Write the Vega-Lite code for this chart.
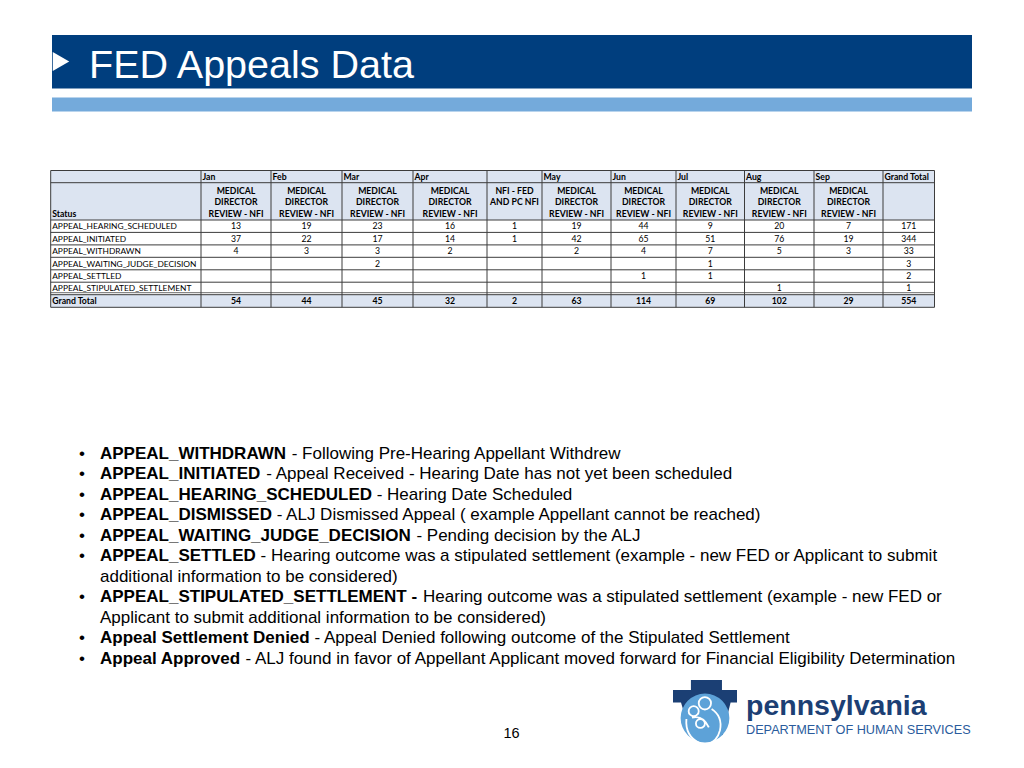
{
  "$schema": "https://vega.github.io/schema/vega-lite/v6.json",
  "width": 1024,
  "height": 768,
  "autosize": {"type": "none"},
  "padding": 0,
  "background": "white",
  "config": {"view": {"stroke": null}},
  "resolve": {"scale": {"x": "independent", "y": "independent"}},
  "datasets": {
    "cells": [
      {"status": "APPEAL_HEARING_SCHEDULED", "month": "Jan", "r": 2, "c": 1, "value": 13},
      {"status": "APPEAL_HEARING_SCHEDULED", "month": "Feb", "r": 2, "c": 2, "value": 19},
      {"status": "APPEAL_HEARING_SCHEDULED", "month": "Mar", "r": 2, "c": 3, "value": 23},
      {"status": "APPEAL_HEARING_SCHEDULED", "month": "Apr", "r": 2, "c": 4, "value": 16},
      {"status": "APPEAL_HEARING_SCHEDULED", "month": "Apr NFI", "r": 2, "c": 5, "value": 1},
      {"status": "APPEAL_HEARING_SCHEDULED", "month": "May", "r": 2, "c": 6, "value": 19},
      {"status": "APPEAL_HEARING_SCHEDULED", "month": "Jun", "r": 2, "c": 7, "value": 44},
      {"status": "APPEAL_HEARING_SCHEDULED", "month": "Jul", "r": 2, "c": 8, "value": 9},
      {"status": "APPEAL_HEARING_SCHEDULED", "month": "Aug", "r": 2, "c": 9, "value": 20},
      {"status": "APPEAL_HEARING_SCHEDULED", "month": "Sep", "r": 2, "c": 10, "value": 7},
      {"status": "APPEAL_HEARING_SCHEDULED", "month": "Grand Total", "r": 2, "c": 11, "value": 171},
      {"status": "APPEAL_INITIATED", "month": "Jan", "r": 3, "c": 1, "value": 37},
      {"status": "APPEAL_INITIATED", "month": "Feb", "r": 3, "c": 2, "value": 22},
      {"status": "APPEAL_INITIATED", "month": "Mar", "r": 3, "c": 3, "value": 17},
      {"status": "APPEAL_INITIATED", "month": "Apr", "r": 3, "c": 4, "value": 14},
      {"status": "APPEAL_INITIATED", "month": "Apr NFI", "r": 3, "c": 5, "value": 1},
      {"status": "APPEAL_INITIATED", "month": "May", "r": 3, "c": 6, "value": 42},
      {"status": "APPEAL_INITIATED", "month": "Jun", "r": 3, "c": 7, "value": 65},
      {"status": "APPEAL_INITIATED", "month": "Jul", "r": 3, "c": 8, "value": 51},
      {"status": "APPEAL_INITIATED", "month": "Aug", "r": 3, "c": 9, "value": 76},
      {"status": "APPEAL_INITIATED", "month": "Sep", "r": 3, "c": 10, "value": 19},
      {"status": "APPEAL_INITIATED", "month": "Grand Total", "r": 3, "c": 11, "value": 344},
      {"status": "APPEAL_WITHDRAWN", "month": "Jan", "r": 4, "c": 1, "value": 4},
      {"status": "APPEAL_WITHDRAWN", "month": "Feb", "r": 4, "c": 2, "value": 3},
      {"status": "APPEAL_WITHDRAWN", "month": "Mar", "r": 4, "c": 3, "value": 3},
      {"status": "APPEAL_WITHDRAWN", "month": "Apr", "r": 4, "c": 4, "value": 2},
      {"status": "APPEAL_WITHDRAWN", "month": "May", "r": 4, "c": 6, "value": 2},
      {"status": "APPEAL_WITHDRAWN", "month": "Jun", "r": 4, "c": 7, "value": 4},
      {"status": "APPEAL_WITHDRAWN", "month": "Jul", "r": 4, "c": 8, "value": 7},
      {"status": "APPEAL_WITHDRAWN", "month": "Aug", "r": 4, "c": 9, "value": 5},
      {"status": "APPEAL_WITHDRAWN", "month": "Sep", "r": 4, "c": 10, "value": 3},
      {"status": "APPEAL_WITHDRAWN", "month": "Grand Total", "r": 4, "c": 11, "value": 33},
      {"status": "APPEAL_WAITING_JUDGE_DECISION", "month": "Mar", "r": 5, "c": 3, "value": 2},
      {"status": "APPEAL_WAITING_JUDGE_DECISION", "month": "Jul", "r": 5, "c": 8, "value": 1},
      {"status": "APPEAL_WAITING_JUDGE_DECISION", "month": "Grand Total", "r": 5, "c": 11, "value": 3},
      {"status": "APPEAL_SETTLED", "month": "Jun", "r": 6, "c": 7, "value": 1},
      {"status": "APPEAL_SETTLED", "month": "Jul", "r": 6, "c": 8, "value": 1},
      {"status": "APPEAL_SETTLED", "month": "Grand Total", "r": 6, "c": 11, "value": 2},
      {"status": "APPEAL_STIPULATED_SETTLEMENT", "month": "Aug", "r": 7, "c": 9, "value": 1},
      {"status": "APPEAL_STIPULATED_SETTLEMENT", "month": "Grand Total", "r": 7, "c": 11, "value": 1},
      {"status": "Grand Total", "month": "Jan", "r": 8, "c": 1, "value": 54},
      {"status": "Grand Total", "month": "Feb", "r": 8, "c": 2, "value": 44},
      {"status": "Grand Total", "month": "Mar", "r": 8, "c": 3, "value": 45},
      {"status": "Grand Total", "month": "Apr", "r": 8, "c": 4, "value": 32},
      {"status": "Grand Total", "month": "Apr NFI", "r": 8, "c": 5, "value": 2},
      {"status": "Grand Total", "month": "May", "r": 8, "c": 6, "value": 63},
      {"status": "Grand Total", "month": "Jun", "r": 8, "c": 7, "value": 114},
      {"status": "Grand Total", "month": "Jul", "r": 8, "c": 8, "value": 69},
      {"status": "Grand Total", "month": "Aug", "r": 8, "c": 9, "value": 102},
      {"status": "Grand Total", "month": "Sep", "r": 8, "c": 10, "value": 29},
      {"status": "Grand Total", "month": "Grand Total", "r": 8, "c": 11, "value": 554}
    ],
    "labels": [
      {"r": 0, "c": 1, "text": "Jan"},
      {"r": 0, "c": 2, "text": "Feb"},
      {"r": 0, "c": 3, "text": "Mar"},
      {"r": 0, "c": 4, "text": "Apr"},
      {"r": 0, "c": 6, "text": "May"},
      {"r": 0, "c": 7, "text": "Jun"},
      {"r": 0, "c": 8, "text": "Jul"},
      {"r": 0, "c": 9, "text": "Aug"},
      {"r": 0, "c": 10, "text": "Sep"},
      {"r": 0, "c": 11, "text": "Grand Total"},
      {"r": 2, "c": 0, "text": "APPEAL_HEARING_SCHEDULED"},
      {"r": 3, "c": 0, "text": "APPEAL_INITIATED"},
      {"r": 4, "c": 0, "text": "APPEAL_WITHDRAWN"},
      {"r": 5, "c": 0, "text": "APPEAL_WAITING_JUDGE_DECISION"},
      {"r": 6, "c": 0, "text": "APPEAL_SETTLED"},
      {"r": 7, "c": 0, "text": "APPEAL_STIPULATED_SETTLEMENT"},
      {"r": 8, "c": 0, "text": "Grand Total"}
    ],
    "subheads": [
      {"c": 1, "text": "MEDICAL\nDIRECTOR\nREVIEW - NFI"},
      {"c": 2, "text": "MEDICAL\nDIRECTOR\nREVIEW - NFI"},
      {"c": 3, "text": "MEDICAL\nDIRECTOR\nREVIEW - NFI"},
      {"c": 4, "text": "MEDICAL\nDIRECTOR\nREVIEW - NFI"},
      {"c": 5, "text": "NFI - FED\nAND PC NFI"},
      {"c": 6, "text": "MEDICAL\nDIRECTOR\nREVIEW - NFI"},
      {"c": 7, "text": "MEDICAL\nDIRECTOR\nREVIEW - NFI"},
      {"c": 8, "text": "MEDICAL\nDIRECTOR\nREVIEW - NFI"},
      {"c": 9, "text": "MEDICAL\nDIRECTOR\nREVIEW - NFI"},
      {"c": 10, "text": "MEDICAL\nDIRECTOR\nREVIEW - NFI"}
    ],
    "hlines": [{"r": 0}, {"r": 1}, {"r": 2}, {"r": 3}, {"r": 4}, {"r": 5}, {"r": 6}, {"r": 7}, {"r": 8}, {"r": 9}],
    "vlines": [{"c": 0}, {"c": 1}, {"c": 2}, {"c": 3}, {"c": 4}, {"c": 5}, {"c": 6}, {"c": 7}, {"c": 8}, {"c": 9}, {"c": 10}, {"c": 11}, {"c": 12}],
    "bands": [{"from": 0, "to": 2}, {"from": 8, "to": 9}],
    "notes": [
      {"line": 0, "bullet": "•", "bold": "APPEAL_WITHDRAWN", "rest": "- Following Pre-Hearing Appellant Withdrew"},
      {"line": 1, "bullet": "•", "bold": "APPEAL_INITIATED", "rest": "- Appeal Received - Hearing Date has not yet been scheduled"},
      {"line": 2, "bullet": "•", "bold": "APPEAL_HEARING_SCHEDULED", "rest": "- Hearing Date Scheduled"},
      {"line": 3, "bullet": "•", "bold": "APPEAL_DISMISSED", "rest": "- ALJ Dismissed Appeal ( example Appellant cannot be reached)"},
      {"line": 4, "bullet": "•", "bold": "APPEAL_WAITING_JUDGE_DECISION", "rest": "- Pending decision by the ALJ"},
      {"line": 5, "bullet": "•", "bold": "APPEAL_SETTLED", "rest": "- Hearing outcome was a stipulated settlement (example - new FED or Applicant to submit"},
      {"line": 6, "bullet": "", "bold": "", "rest": "additional information to be considered)"},
      {"line": 7, "bullet": "•", "bold": "APPEAL_STIPULATED_SETTLEMENT -", "rest": "Hearing outcome was a stipulated settlement (example - new FED or"},
      {"line": 8, "bullet": "", "bold": "", "rest": "Applicant to submit additional information to be considered)"},
      {"line": 9, "bullet": "•", "bold": "Appeal Settlement Denied", "rest": "- Appeal Denied following outcome of the Stipulated Settlement"},
      {"line": 10, "bullet": "•", "bold": "Appeal Approved", "rest": "- ALJ found in favor of Appellant Applicant moved forward for Financial Eligibility Determination"}
    ]
  },
  "layer": [
    {
      "data": {"values": [{}]},
      "mark": {"type": "rect", "color": "#003E7E"},
      "encoding": {
        "x": {"datum": 52, "type": "quantitative", "scale": {"type": "linear", "domain": [0, 1024], "range": [0, 1024], "nice": false, "zero": false}, "axis": null},
        "x2": {"datum": 972},
        "y": {"datum": 35, "type": "quantitative", "scale": {"type": "linear", "domain": [0, 768], "range": [0, 768], "nice": false, "zero": false}, "axis": null},
        "y2": {"datum": 88.5}
      }
    },
    {
      "data": {"values": [{}]},
      "mark": {"type": "point", "shape": "triangle-right", "filled": true, "color": "white", "opacity": 1, "size": 361, "strokeWidth": 0},
      "encoding": {
        "x": {"datum": 61, "type": "quantitative", "scale": {"type": "linear", "domain": [0, 1024], "range": [0, 1024], "nice": false, "zero": false}, "axis": null},
        "y": {"datum": 61.5, "type": "quantitative", "scale": {"type": "linear", "domain": [0, 768], "range": [0, 768], "nice": false, "zero": false}, "axis": null}
      }
    },
    {
      "data": {"values": [{"t": "FED Appeals Data"}]},
      "mark": {"type": "text", "font": "Liberation Sans", "fontSize": 39.5, "color": "white", "align": "left", "baseline": "alphabetic"},
      "encoding": {
        "text": {"field": "t"},
        "x": {"datum": 89, "type": "quantitative", "scale": {"type": "linear", "domain": [0, 1024], "range": [0, 1024], "nice": false, "zero": false}, "axis": null},
        "y": {"datum": 78, "type": "quantitative", "scale": {"type": "linear", "domain": [0, 768], "range": [0, 768], "nice": false, "zero": false}, "axis": null}
      }
    },
    {
      "data": {"values": [{}]},
      "mark": {"type": "rect", "color": "#74AADB"},
      "encoding": {
        "x": {"datum": 52, "type": "quantitative", "scale": {"type": "linear", "domain": [0, 1024], "range": [0, 1024], "nice": false, "zero": false}, "axis": null},
        "x2": {"datum": 972},
        "y": {"datum": 97.5, "type": "quantitative", "scale": {"type": "linear", "domain": [0, 768], "range": [0, 768], "nice": false, "zero": false}, "axis": null},
        "y2": {"datum": 111.5}
      }
    },
    {
      "data": {"name": "bands"},
      "mark": {"type": "rect", "color": "#DCE4F1"},
      "encoding": {
        "x": {"datum": 0, "type": "quantitative", "scale": {"type": "linear", "domain": [0, 1, 2, 3, 4, 5, 6, 7, 8, 9, 10, 11, 12], "range": [50.7, 201, 271, 342, 413, 487, 542, 611, 676, 744.5, 814, 883, 934.5], "nice": false, "zero": false}, "axis": null},
        "x2": {"datum": 12},
        "y": {"field": "from", "type": "quantitative", "scale": {"type": "linear", "domain": [0, 1, 2, 3, 4, 5, 6, 7, 8, 9], "range": [170.5, 182.7, 220, 232.4, 244.9, 257.3, 269.8, 282.2, 294.7, 307.3], "nice": false, "zero": false}, "axis": null},
        "y2": {"field": "to"}
      }
    },
    {
      "data": {"name": "hlines"},
      "mark": {"type": "rule", "color": "#3C3C3C", "strokeWidth": 1},
      "encoding": {
        "x": {"datum": 0, "type": "quantitative", "scale": {"type": "linear", "domain": [0, 1, 2, 3, 4, 5, 6, 7, 8, 9, 10, 11, 12], "range": [50.7, 201, 271, 342, 413, 487, 542, 611, 676, 744.5, 814, 883, 934.5], "nice": false, "zero": false}, "axis": null},
        "x2": {"datum": 12},
        "y": {"field": "r", "type": "quantitative", "scale": {"type": "linear", "domain": [0, 1, 2, 3, 4, 5, 6, 7, 8, 9], "range": [170.5, 182.7, 220, 232.4, 244.9, 257.3, 269.8, 282.2, 294.7, 307.3], "nice": false, "zero": false}, "axis": null}
      }
    },
    {
      "data": {"values": [{}]},
      "mark": {"type": "rule", "color": "#6A6A6A", "strokeWidth": 1, "yOffset": -2},
      "encoding": {
        "x": {"datum": 0, "type": "quantitative", "scale": {"type": "linear", "domain": [0, 1, 2, 3, 4, 5, 6, 7, 8, 9, 10, 11, 12], "range": [50.7, 201, 271, 342, 413, 487, 542, 611, 676, 744.5, 814, 883, 934.5], "nice": false, "zero": false}, "axis": null},
        "x2": {"datum": 12},
        "y": {"datum": 8, "type": "quantitative", "scale": {"type": "linear", "domain": [0, 1, 2, 3, 4, 5, 6, 7, 8, 9], "range": [170.5, 182.7, 220, 232.4, 244.9, 257.3, 269.8, 282.2, 294.7, 307.3], "nice": false, "zero": false}, "axis": null}
      }
    },
    {
      "data": {"name": "vlines"},
      "mark": {"type": "rule", "color": "#3C3C3C", "strokeWidth": 1},
      "encoding": {
        "x": {"field": "c", "type": "quantitative", "scale": {"type": "linear", "domain": [0, 1, 2, 3, 4, 5, 6, 7, 8, 9, 10, 11, 12], "range": [50.7, 201, 271, 342, 413, 487, 542, 611, 676, 744.5, 814, 883, 934.5], "nice": false, "zero": false}, "axis": null},
        "y": {"datum": 0, "type": "quantitative", "scale": {"type": "linear", "domain": [0, 1, 2, 3, 4, 5, 6, 7, 8, 9], "range": [170.5, 182.7, 220, 232.4, 244.9, 257.3, 269.8, 282.2, 294.7, 307.3], "nice": false, "zero": false}, "axis": null},
        "y2": {"datum": 9}
      }
    },
    {
      "data": {"name": "labels"},
      "transform": [{"filter": "datum.r >= 2 && datum.r <= 7"}],
      "mark": {"type": "text", "font": "Lato", "fontSize": 8.4, "color": "#000000", "align": "left", "baseline": "middle", "dx": 1.5},
      "encoding": {
        "text": {"field": "text"},
        "x": {"field": "c", "type": "quantitative", "scale": {"type": "linear", "domain": [0, 1, 2, 3, 4, 5, 6, 7, 8, 9, 10, 11, 12], "range": [50.7, 201, 271, 342, 413, 487, 542, 611, 676, 744.5, 814, 883, 934.5], "nice": false, "zero": false}, "axis": null},
        "y": {"field": "r", "type": "quantitative", "scale": {"type": "linear", "domain": [0, 1, 2, 3, 4, 5, 6, 7, 8], "range": [176.6, 201.4, 226.2, 238.65, 251.1, 263.55, 276, 288.45, 301], "nice": false, "zero": false}, "axis": null}
      }
    },
    {
      "data": {"name": "labels"},
      "transform": [{"filter": "datum.r == 0 || datum.r == 8"}],
      "mark": {"type": "text", "font": "Lato", "fontSize": 8.7, "fontWeight": "bold", "color": "#000000", "align": "left", "baseline": "middle", "dx": 1.5},
      "encoding": {
        "text": {"field": "text"},
        "x": {"field": "c", "type": "quantitative", "scale": {"type": "linear", "domain": [0, 1, 2, 3, 4, 5, 6, 7, 8, 9, 10, 11, 12], "range": [50.7, 201, 271, 342, 413, 487, 542, 611, 676, 744.5, 814, 883, 934.5], "nice": false, "zero": false}, "axis": null},
        "y": {"field": "r", "type": "quantitative", "scale": {"type": "linear", "domain": [0, 1, 2, 3, 4, 5, 6, 7, 8], "range": [176.6, 201.4, 226.2, 238.65, 251.1, 263.55, 276, 288.45, 301], "nice": false, "zero": false}, "axis": null}
      }
    },
    {
      "data": {"values": [{"t": "Status"}]},
      "mark": {"type": "text", "font": "Lato", "fontSize": 8.7, "fontWeight": "bold", "color": "#000000", "align": "left", "baseline": "bottom", "dx": 1.5, "dy": -1.5},
      "encoding": {
        "text": {"field": "t"},
        "x": {"datum": 0, "type": "quantitative", "scale": {"type": "linear", "domain": [0, 1, 2, 3, 4, 5, 6, 7, 8, 9, 10, 11, 12], "range": [50.7, 201, 271, 342, 413, 487, 542, 611, 676, 744.5, 814, 883, 934.5], "nice": false, "zero": false}, "axis": null},
        "y": {"datum": 2, "type": "quantitative", "scale": {"type": "linear", "domain": [0, 1, 2, 3, 4, 5, 6, 7, 8, 9], "range": [170.5, 182.7, 220, 232.4, 244.9, 257.3, 269.8, 282.2, 294.7, 307.3], "nice": false, "zero": false}, "axis": null}
      }
    },
    {
      "data": {"name": "subheads"},
      "mark": {"type": "text", "font": "Lato", "fontSize": 8.7, "fontWeight": "bold", "color": "#000000", "align": "center", "baseline": "top", "lineBreak": "\n", "lineHeight": 11.6, "dy": 4},
      "encoding": {
        "text": {"field": "text"},
        "x": {"field": "c", "type": "quantitative", "scale": {"type": "linear", "domain": [1, 2, 3, 4, 5, 6, 7, 8, 9, 10, 11], "range": [236, 306.5, 377.5, 450, 514.5, 576.5, 643.5, 710.25, 779.25, 848.5, 908.75], "nice": false, "zero": false}, "axis": null},
        "y": {"datum": 1, "type": "quantitative", "scale": {"type": "linear", "domain": [0, 1, 2, 3, 4, 5, 6, 7, 8, 9], "range": [170.5, 182.7, 220, 232.4, 244.9, 257.3, 269.8, 282.2, 294.7, 307.3], "nice": false, "zero": false}, "axis": null}
      }
    },
    {
      "data": {"name": "cells"},
      "transform": [{"filter": "datum.r < 8"}],
      "mark": {"type": "text", "font": "Lato", "fontSize": 8.7, "color": "#000000", "align": "center", "baseline": "middle"},
      "encoding": {
        "text": {"field": "value", "type": "nominal"},
        "x": {"field": "c", "type": "quantitative", "scale": {"type": "linear", "domain": [1, 2, 3, 4, 5, 6, 7, 8, 9, 10, 11], "range": [236, 306.5, 377.5, 450, 514.5, 576.5, 643.5, 710.25, 779.25, 848.5, 908.75], "nice": false, "zero": false}, "axis": null},
        "y": {"field": "r", "type": "quantitative", "scale": {"type": "linear", "domain": [0, 1, 2, 3, 4, 5, 6, 7, 8], "range": [176.6, 201.4, 226.2, 238.65, 251.1, 263.55, 276, 288.45, 301], "nice": false, "zero": false}, "axis": null}
      }
    },
    {
      "data": {"name": "cells"},
      "transform": [{"filter": "datum.r == 8"}],
      "mark": {"type": "text", "font": "Lato", "fontSize": 8.7, "fontWeight": "bold", "color": "#000000", "align": "center", "baseline": "middle"},
      "encoding": {
        "text": {"field": "value", "type": "nominal"},
        "x": {"field": "c", "type": "quantitative", "scale": {"type": "linear", "domain": [1, 2, 3, 4, 5, 6, 7, 8, 9, 10, 11], "range": [236, 306.5, 377.5, 450, 514.5, 576.5, 643.5, 710.25, 779.25, 848.5, 908.75], "nice": false, "zero": false}, "axis": null},
        "y": {"field": "r", "type": "quantitative", "scale": {"type": "linear", "domain": [0, 1, 2, 3, 4, 5, 6, 7, 8], "range": [176.6, 201.4, 226.2, 238.65, 251.1, 263.55, 276, 288.45, 301], "nice": false, "zero": false}, "axis": null}
      }
    },
    {
      "data": {"name": "notes"},
      "transform": [{"filter": "datum.bullet != ''"}],
      "mark": {"type": "text", "font": "Liberation Sans", "fontSize": 17, "color": "#000000", "align": "left", "baseline": "alphabetic"},
      "encoding": {
        "text": {"field": "bullet"},
        "x": {"datum": 79, "type": "quantitative", "scale": {"type": "linear", "domain": [0, 1024], "range": [0, 1024], "nice": false, "zero": false}, "axis": null},
        "y": {"field": "line", "type": "quantitative", "scale": {"type": "linear", "domain": [0, 10], "range": [458.5, 664], "nice": false, "zero": false}, "axis": null}
      }
    },
    {
      "data": {"name": "notes"},
      "transform": [{"filter": "datum.bold != ''"}],
      "mark": {"type": "text", "font": "Liberation Sans", "fontSize": 17, "fontWeight": "bold", "color": "#000000", "align": "left", "baseline": "alphabetic"},
      "encoding": {
        "text": {"field": "bold"},
        "x": {"datum": 100, "type": "quantitative", "scale": {"type": "linear", "domain": [0, 1024], "range": [0, 1024], "nice": false, "zero": false}, "axis": null},
        "y": {"field": "line", "type": "quantitative", "scale": {"type": "linear", "domain": [0, 10], "range": [458.5, 664], "nice": false, "zero": false}, "axis": null}
      }
    },
    {
      "data": {"name": "notes"},
      "mark": {"type": "text", "font": "Liberation Sans", "fontSize": 17, "color": "#000000", "align": "left", "baseline": "alphabetic"},
      "encoding": {
        "text": {"field": "rest"},
        "x": {"field": "line", "type": "quantitative", "scale": {"type": "linear", "domain": [0, 1, 2, 3, 4, 5, 6, 7, 8, 9, 10], "range": [291.71, 266.25, 376.71, 276.65, 416.44, 260.59, 100, 423.04, 100, 314.44, 245.47], "nice": false, "zero": false}, "axis": null},
        "y": {"field": "line", "type": "quantitative", "scale": {"type": "linear", "domain": [0, 10], "range": [458.5, 664], "nice": false, "zero": false}, "axis": null}
      }
    },
    {
      "data": {"values": [{}]},
      "mark": {"type": "point", "shape": "M-1,-0.69L-0.44,-0.69L-0.44,-1L0.53,-1L0.53,-0.69L1,-0.69L1,-0.3L0.8,-0.3L0.55,0.72L-0.45,0.72L-0.75,-0.3L-1,-0.3Z", "filled": true, "color": "#1B3F74", "opacity": 1, "size": 4096, "strokeWidth": 0},
      "encoding": {
        "x": {"datum": 705, "type": "quantitative", "scale": {"type": "linear", "domain": [0, 1024], "range": [0, 1024], "nice": false, "zero": false}, "axis": null},
        "y": {"datum": 712, "type": "quantitative", "scale": {"type": "linear", "domain": [0, 768], "range": [0, 768], "nice": false, "zero": false}, "axis": null}
      }
    },
    {
      "data": {"values": [{}]},
      "mark": {"type": "point", "shape": "circle", "filled": true, "color": "#5DA2D8", "opacity": 1, "size": 2376, "strokeWidth": 0},
      "encoding": {
        "x": {"datum": 705, "type": "quantitative", "scale": {"type": "linear", "domain": [0, 1024], "range": [0, 1024], "nice": false, "zero": false}, "axis": null},
        "y": {"datum": 718, "type": "quantitative", "scale": {"type": "linear", "domain": [0, 768], "range": [0, 768], "nice": false, "zero": false}, "axis": null}
      }
    },
    {
      "data": {"values": [{}]},
      "mark": {"type": "point", "shape": "M-0.26,-0.56A0.22,0.22 0 1,0 0.18,-0.56A0.22,0.22 0 1,0 -0.26,-0.56M-0.62,-0.28A0.18,0.18 0 1,0 -0.26,-0.28A0.18,0.18 0 1,0 -0.62,-0.28M-0.36,0.16A0.16,0.16 0 1,0 -0.04,0.16A0.16,0.16 0 1,0 -0.36,0.16M0.2,-0.36Q0.6,-0.1 0.5,0.4Q0.4,0.8 0.05,0.9M-0.7,0Q-0.75,0.6 -0.25,0.85M-0.5,-0.05Q-0.1,-0.15 0.1,0.3", "filled": false, "color": "white", "opacity": 1, "size": 3136, "strokeWidth": 1.8},
      "encoding": {
        "x": {"datum": 706, "type": "quantitative", "scale": {"type": "linear", "domain": [0, 1024], "range": [0, 1024], "nice": false, "zero": false}, "axis": null},
        "y": {"datum": 719, "type": "quantitative", "scale": {"type": "linear", "domain": [0, 768], "range": [0, 768], "nice": false, "zero": false}, "axis": null}
      }
    },
    {
      "data": {"values": [{"t": "pennsylvania"}]},
      "mark": {"type": "text", "font": "Liberation Sans", "fontSize": 28.5, "fontWeight": "bold", "color": "#1C3F74", "align": "left", "baseline": "alphabetic"},
      "encoding": {
        "text": {"field": "t"},
        "x": {"datum": 746, "type": "quantitative", "scale": {"type": "linear", "domain": [0, 1024], "range": [0, 1024], "nice": false, "zero": false}, "axis": null},
        "y": {"datum": 715, "type": "quantitative", "scale": {"type": "linear", "domain": [0, 768], "range": [0, 768], "nice": false, "zero": false}, "axis": null}
      }
    },
    {
      "data": {"values": [{"t": "DEPARTMENT OF HUMAN SERVICES"}]},
      "mark": {"type": "text", "font": "Liberation Sans", "fontSize": 12.7, "color": "#2A5B9C", "align": "left", "baseline": "alphabetic"},
      "encoding": {
        "text": {"field": "t"},
        "x": {"datum": 746, "type": "quantitative", "scale": {"type": "linear", "domain": [0, 1024], "range": [0, 1024], "nice": false, "zero": false}, "axis": null},
        "y": {"datum": 734, "type": "quantitative", "scale": {"type": "linear", "domain": [0, 768], "range": [0, 768], "nice": false, "zero": false}, "axis": null}
      }
    },
    {
      "data": {"values": [{"t": "16"}]},
      "mark": {"type": "text", "font": "Liberation Sans", "fontSize": 14.5, "color": "#000000", "align": "center", "baseline": "alphabetic"},
      "encoding": {
        "text": {"field": "t"},
        "x": {"datum": 511.5, "type": "quantitative", "scale": {"type": "linear", "domain": [0, 1024], "range": [0, 1024], "nice": false, "zero": false}, "axis": null},
        "y": {"datum": 738, "type": "quantitative", "scale": {"type": "linear", "domain": [0, 768], "range": [0, 768], "nice": false, "zero": false}, "axis": null}
      }
    }
  ]
}
